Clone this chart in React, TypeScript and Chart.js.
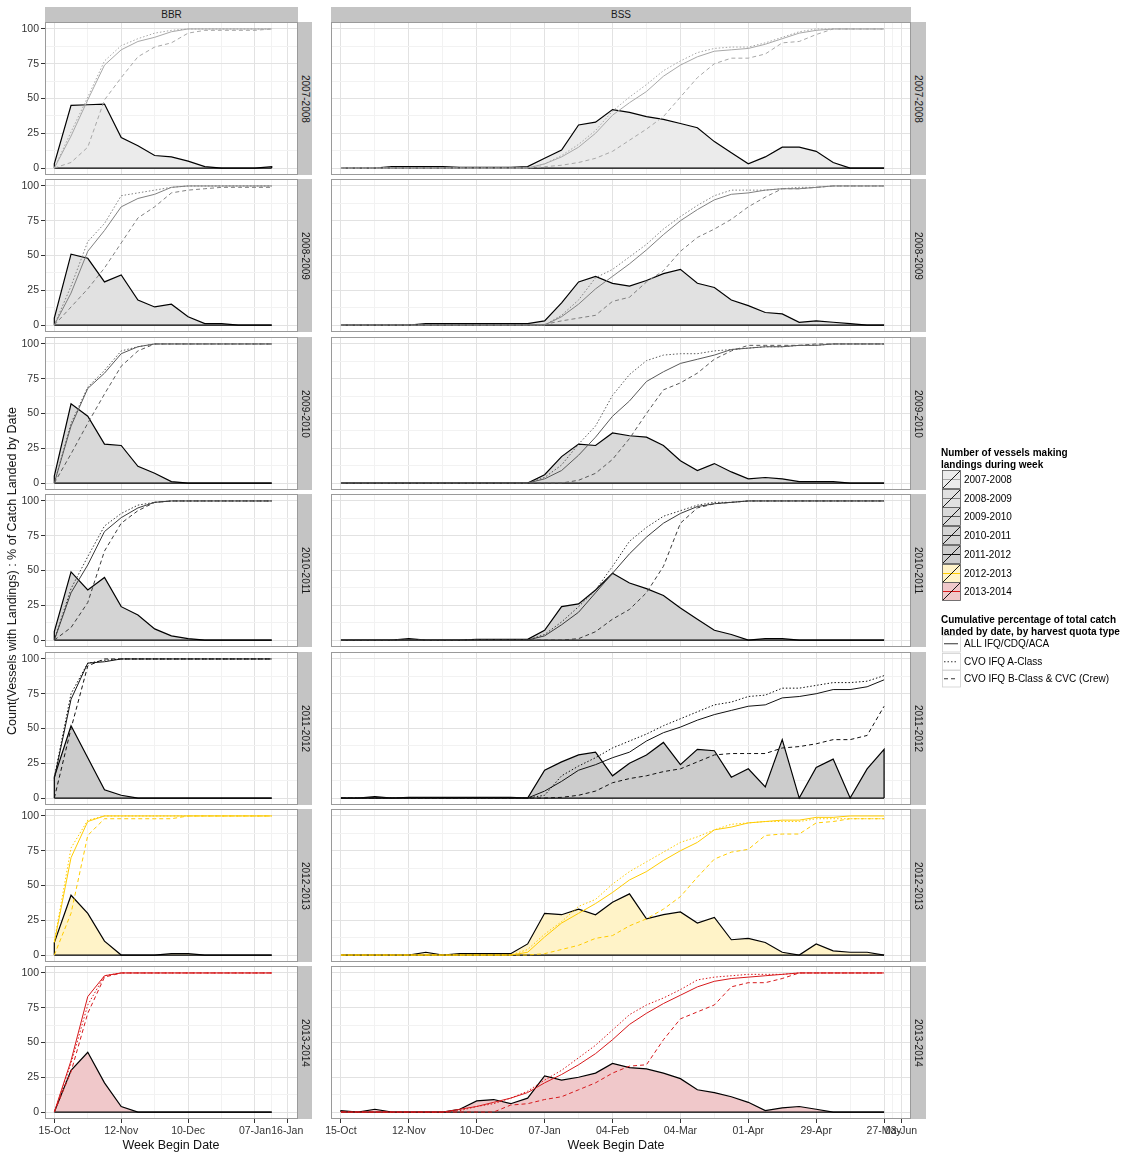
import React, { useEffect, useRef } from 'react';
import { Chart, registerables } from 'chart.js';

Chart.register(...registerables);

const FONT = "'Liberation Sans', Arial, Helvetica, sans-serif";
Chart.defaults.font.family = FONT;

// ---------------- data ----------------
const SEASONS = ['2007-2008', '2008-2009', '2009-2010', '2010-2011', '2011-2012', '2012-2013', '2013-2014'];
const REGIONS = ['BBR', 'BSS'];

// days since 15-Oct (week begin dates)
const BBR_DAYS = [0, 7, 14, 21, 28, 35, 42, 49, 56, 63, 70, 77, 84, 91];
const BSS_DAYS = [0, 7, 14, 21, 28, 35, 42, 49, 56, 63, 70, 77, 84, 91, 98, 105, 112, 119, 126, 133, 140, 147, 154, 161, 168, 175, 182, 189, 196, 203, 210, 217, 224];

const BBR_TICK_DAYS = [0, 28, 56, 84, 97.5];
const BBR_TICK_LABELS = ['15-Oct', '12-Nov', '10-Dec', '07-Jan', '16-Jan'];
const BSS_TICK_DAYS = [0, 28, 56, 84, 112, 140, 168, 196, 224, 231];
const BSS_TICK_LABELS = ['15-Oct', '12-Nov', '10-Dec', '07-Jan', '04-Feb', '04-Mar', '01-Apr', '29-Apr', '27-May', '03-Jun'];
const Y_TICKS = [0, 25, 50, 75, 100];

// Number of vessels making landings during week
const BBR_VESSELS = [
  [3, 45, 45.5, 46, 22, 16, 9, 8, 5, 1, 0, 0, 0, 1],
  [5, 51, 48, 31, 36, 18, 13, 15, 6, 1, 1, 0, 0, 0],
  [5, 57, 48, 28, 27, 12, 7, 1, 0, 0, 0, 0, 0, 0],
  [6, 49, 36, 45, 24, 18, 8, 3, 1, 0, 0, 0, 0, 0],
  [15, 52, 29, 6, 2, 0, 0, 0, 0, 0, 0, 0, 0, 0],
  [9, 43, 30, 10, 0, 0, 0, 1, 1, 0, 0, 0, 0, 0],
  [0, 30, 43, 21, 4, 0, 0, 0, 0, 0, 0, 0, 0, 0],
];
// Cumulative % ALL IFQ/CDQ/ACA
const BBR_ALL = [
  [0, 23, 49, 74, 85, 91, 94, 98, 100, 100, 100, 100, 100, 100],
  [0, 23, 53, 68, 85, 91, 94, 99, 100, 100, 100, 100, 100, 100],
  [0, 41, 68, 79, 93, 98, 100, 100, 100, 100, 100, 100, 100, 100],
  [0, 34, 54, 78, 88, 95, 99, 100, 100, 100, 100, 100, 100, 100],
  [14, 71, 97, 98, 100, 100, 100, 100, 100, 100, 100, 100, 100, 100],
  [9, 70, 96, 100, 100, 100, 100, 100, 100, 100, 100, 100, 100, 100],
  [0, 37, 83, 98, 100, 100, 100, 100, 100, 100, 100, 100, 100, 100],
];
// Cumulative % CVO IFQ A-Class
const BBR_ACLASS = [
  [0, 26, 51, 77, 88, 93, 97, 99, 100, 100, 100, 100, 100, 100],
  [0, 28, 60, 73, 93, 95, 97, 99, 100, 100, 100, 100, 100, 100],
  [0, 43, 69, 81, 95, 98, 100, 100, 100, 100, 100, 100, 100, 100],
  [0, 37, 60, 82, 91, 97, 99, 100, 100, 100, 100, 100, 100, 100],
  [15, 75, 97, 99, 100, 100, 100, 100, 100, 100, 100, 100, 100, 100],
  [10, 77, 97, 100, 100, 100, 100, 100, 100, 100, 100, 100, 100, 100],
  [0, 35, 77, 98, 100, 100, 100, 100, 100, 100, 100, 100, 100, 100],
];
// Cumulative % CVO IFQ B-Class & CVC (Crew)
const BBR_BCLASS = [
  [0, 4, 15, 49, 65, 80, 87, 90, 97, 99, 99, 99, 99, 100],
  [0, 13, 26, 41, 59, 77, 85, 95, 97, 98, 99, 99, 99, 99],
  [0, 21, 43, 64, 84, 95, 100, 100, 100, 100, 100, 100, 100, 100],
  [0, 9, 27, 64, 84, 93, 99, 100, 100, 100, 100, 100, 100, 100],
  [0, 50, 95, 100, 100, 100, 100, 100, 100, 100, 100, 100, 100, 100],
  [0, 30, 86, 98, 98, 98, 98, 98, 100, 100, 100, 100, 100, 100],
  [0, 29, 71, 97, 100, 100, 100, 100, 100, 100, 100, 100, 100, 100],
];

const BSS_VESSELS = [
  [0, 0, 0, 1, 1, 1, 1, 0.5, 0.5, 0.5, 0.5, 1, 7, 13, 31, 33, 42, 40, 37, 35, 32, 29, 19, 11, 3, 8, 15, 15, 12, 4, 0, 0, 0],
  [0, 0, 0, 0, 0, 1, 1, 1, 1, 1, 1, 1, 3, 16, 31, 35, 30, 28, 32, 37, 40, 30, 27, 18, 14, 9, 8, 2, 3, 2, 1, 0, 0],
  [0, 0, 0, 0, 0, 0, 0, 0, 0, 0, 0, 0, 6, 19, 28, 27, 36, 34, 33, 27, 16, 9, 14, 8, 3, 4, 3, 1, 1, 1, 0, 0, 0],
  [0, 0, 0, 0, 1, 0, 0, 0, 0.5, 0.5, 0.5, 0.5, 7, 24, 26, 36, 48, 41, 37, 32, 23, 15, 7, 4, 0, 1, 1, 0, 0, 0, 0, 0, 0],
  [0, 0, 1, 0, 0.5, 0.5, 0.5, 0.5, 0.5, 0.5, 0.5, 0, 20, 26, 31, 33, 16, 25, 31, 40, 24, 35, 34, 15, 21, 8, 42, 0, 22, 28, 0, 21, 35],
  [0, 0, 0, 0, 0, 2, 0, 1, 1, 1, 1, 8, 30, 29, 33, 29, 38, 44, 26, 29, 31, 23, 27, 11, 12, 9, 2, 0, 8, 3, 2, 2, 0],
  [1, 0, 2, 0, 0, 0, 0, 2, 8, 9, 6, 10, 26, 23, 25, 28, 35, 32, 31, 28, 24, 16, 14, 11, 7, 1, 3, 4, 2, 0, 0, 0, 0],
];
const BSS_ALL = [
  [0, 0, 0, 0, 0, 0, 0, 0, 0, 0, 0, 0, 3, 8, 15, 25, 38, 47, 55, 66, 74, 80, 84, 85, 86, 89, 93, 97, 99, 100, 100, 100, 100],
  [0, 0, 0, 0, 0, 0, 0, 0, 0, 0, 0, 0, 0, 6, 15, 26, 35, 44, 54, 65, 75, 83, 90, 94, 95, 97, 98, 98, 99, 100, 100, 100, 100],
  [0, 0, 0, 0, 0, 0, 0, 0, 0, 0, 0, 0, 3, 9, 20, 33, 48, 59, 73, 80, 86, 89, 92, 96, 97, 98, 98, 99, 99, 100, 100, 100, 100],
  [0, 0, 0, 0, 0, 0, 0, 0, 0, 0, 0, 0, 3, 11, 20, 34, 48, 62, 74, 84, 91, 96, 98, 99, 100, 100, 100, 100, 100, 100, 100, 100, 100],
  [0, 0, 0, 0, 0, 0, 0, 0, 0, 0, 0, 0, 5, 12, 20, 24, 29, 33, 41, 47, 51, 56, 60, 63, 66, 67, 72, 73, 75, 78, 78, 80, 85],
  [0, 0, 0, 0, 0, 0, 0, 0, 0, 0, 0, 2, 13, 23, 30, 37, 45, 54, 60, 68, 75, 81, 90, 92, 95, 96, 97, 97, 99, 99, 100, 100, 100],
  [0, 0, 0, 0, 0, 0, 0, 2, 4, 7, 10, 14, 21, 27, 34, 42, 52, 63, 71, 78, 84, 90, 94, 96, 97, 98, 99, 100, 100, 100, 100, 100, 100],
];
const BSS_ACLASS = [
  [0, 0, 0, 0, 0, 0, 0, 0, 0, 0, 0, 0, 3, 9, 17, 27, 41, 51, 60, 70, 77, 83, 86, 87, 87, 90, 94, 98, 100, 100, 100, 100, 100],
  [0, 0, 0, 0, 0, 0, 0, 0, 0, 0, 0, 0, 0, 7, 18, 34, 40, 49, 58, 69, 78, 86, 93, 97, 97, 97, 98, 99, 99, 100, 100, 100, 100],
  [0, 0, 0, 0, 0, 0, 0, 0, 0, 0, 0, 0, 4, 13, 28, 41, 63, 78, 88, 92, 93, 93, 95, 96, 97, 98, 98, 99, 99, 100, 100, 100, 100],
  [0, 0, 0, 0, 0, 0, 0, 0, 0, 0, 0, 0, 4, 13, 24, 36, 53, 71, 81, 89, 93, 97, 99, 99, 100, 100, 100, 100, 100, 100, 100, 100, 100],
  [0, 0, 0, 0, 0, 0, 0, 0, 0, 0, 0, 0, 2, 16, 23, 29, 36, 41, 46, 52, 57, 62, 67, 69, 73, 74, 79, 79, 81, 83, 83, 84, 88],
  [0, 0, 0, 0, 0, 0, 0, 0, 0, 0, 0, 4, 15, 24, 35, 40, 51, 60, 67, 74, 81, 85, 90, 94, 95, 96, 96, 96, 98, 98, 98, 98, 98],
  [0, 0, 0, 0, 0, 0, 0, 1, 4, 6, 10, 15, 23, 30, 39, 48, 59, 70, 77, 82, 88, 95, 97, 98, 99, 99, 99, 100, 100, 100, 100, 100, 100],
];
const BSS_BCLASS = [
  [0, 0, 0, 0, 0, 0, 0, 0, 0, 0, 0, 0, 1, 2, 4, 7, 12, 20, 28, 37, 51, 65, 75, 79, 79, 82, 90, 91, 96, 100, 100, 100, 100],
  [0, 0, 0, 0, 0, 0, 0, 0, 0, 0, 0, 0, 0.5, 3, 5, 7, 17, 20, 31, 39, 53, 63, 69, 76, 85, 92, 98, 98, 99, 100, 100, 100, 100],
  [0, 0, 0, 0, 0, 0, 0, 0, 0, 0, 0, 0, 0, 0, 2, 7, 17, 32, 50, 67, 72, 79, 89, 95, 99, 99, 99, 99, 100, 100, 100, 100, 100],
  [0, 0, 0, 0, 0, 0, 0, 0, 0, 0, 0, 0, 0, 0, 1, 6, 15, 22, 34, 53, 84, 95, 98, 99, 100, 100, 100, 100, 100, 100, 100, 100, 100],
  [0, 0, 0, 0, 0, 0, 0, 0, 0, 0, 0, 0, 0, 0.5, 2, 5, 11, 14, 16, 19, 21, 26, 31, 32, 32, 32, 36, 37, 39, 42, 42, 45, 66],
  [0, 0, 0, 0, 0, 0, 0, 0, 0, 0, 0, 0, 1, 4, 7, 12, 14, 21, 26, 33, 42, 56, 69, 74, 76, 86, 87, 87, 95, 96, 98, 98, 98],
  [0, 0, 0, 0, 0, 0, 0, 0, 0, 0, 5, 6, 9, 11, 16, 21, 28, 33, 34, 52, 67, 72, 77, 90, 93, 93, 96, 100, 100, 100, 100, 100, 100],
];

const QUOTA_LABELS = ['ALL IFQ/CDQ/ACA', 'CVO IFQ A-Class', 'CVO IFQ B-Class & CVC (Crew)'];

// ---------------- styles ----------------
const FILL_COLORS = ['#ebebeb', '#e1e1e1', '#d9d9d9', '#d4d4d4', '#cccccc', '#fff3c8', '#f0c8ca'];
const LINE_COLORS = ['#a8a8a8', '#808080', '#595959', '#3a3a3a', '#111111', '#ffcc00', '#d7191c'];
const DOTTED = [1.5, 2];
const DASHED = [4, 3];
const GRID_MAJOR = '#e2e2e2';
const GRID_MINOR = '#f2f2f2';
const TEXT = '#333333';

const PANEL_TOPS = [22, 179, 337, 494, 652, 809, 966];
const PANEL_H = 153;
const GEOM: any = {
  BBR: { plotLeft: 45, plotRight: 298, canvasLeft: 0, padLeft: 0, padRight: 32, yWidth: 45, xMin: -3.9, xMax: 102, titleCenter: 171 },
  BSS: { plotLeft: 331, plotRight: 911, canvasLeft: 311, padLeft: 20, padRight: 40, yWidth: 0, xMin: -4.1, xMax: 235.1, titleCenter: 616 },
};
const STRIP_BG = '#c4c4c4';

const borderPlugin = {
  id: 'panelBorder',
  afterDraw(chart: any) {
    const { ctx, chartArea: a } = chart;
    ctx.save();
    ctx.strokeStyle = '#9a9a9a';
    ctx.lineWidth = 1;
    const l = Math.round(a.left) + 0.5;
    const t = Math.round(a.top) + 0.5;
    ctx.strokeRect(l, t, Math.round(a.right) - Math.round(a.left) - 1, Math.round(a.bottom) - Math.round(a.top) - 1);
    ctx.restore();
  },
};

function withMinors(majors: number[], min: number, max: number) {
  const out: number[] = [];
  for (let i = 0; i < majors.length; i++) {
    out.push(majors[i]);
    if (i < majors.length - 1) out.push((majors[i] + majors[i + 1]) / 2);
  }
  return out.filter((v) => v >= min && v <= max);
}

function Panel({ region, row }: { region: string; row: number }) {
  const ref = useRef<HTMLCanvasElement | null>(null);
  const g = GEOM[region];
  const isLeft = region === 'BBR';
  const isBottom = row === SEASONS.length - 1;
  const top = PANEL_TOPS[row] - 10;
  const height = isBottom ? 1153 - top : PANEL_H + 20;
  const width = g.plotRight + g.padRight - g.canvasLeft;

  useEffect(() => {
    const days = isLeft ? BBR_DAYS : BSS_DAYS;
    const vessels = (isLeft ? BBR_VESSELS : BSS_VESSELS)[row];
    const all = (isLeft ? BBR_ALL : BSS_ALL)[row];
    const aC = (isLeft ? BBR_ACLASS : BSS_ACLASS)[row];
    const bC = (isLeft ? BBR_BCLASS : BSS_BCLASS)[row];
    const tickDays = isLeft ? BBR_TICK_DAYS : BSS_TICK_DAYS;
    const tickLabels = isLeft ? BBR_TICK_LABELS : BSS_TICK_LABELS;
    const xGrid = withMinors(tickDays, g.xMin, g.xMax);
    const yGrid = withMinors(Y_TICKS, -5, 105);
    const first = days[0];
    const last = days[days.length - 1];
    const pts = (arr: number[]) => arr.map((y, i) => ({ x: days[i], y }));
    const lc = LINE_COLORS[row];
    const isMajorX = (v: number) => tickDays.indexOf(v) >= 0;
    const isMajorY = (v: number) => Y_TICKS.indexOf(v) >= 0;
    const xAxisH = height - 10 - PANEL_H;

    const chart = new Chart(ref.current as HTMLCanvasElement, {
      type: 'line',
      data: {
        datasets: [
          { data: pts(all), borderColor: lc, borderWidth: 1, pointRadius: 0, fill: false, tension: 0, order: 1 } as any,
          { data: pts(aC), borderColor: lc, borderWidth: 1, borderDash: DOTTED, pointRadius: 0, fill: false, tension: 0, order: 2 },
          { data: pts(bC), borderColor: lc, borderWidth: 1, borderDash: DASHED, pointRadius: 0, fill: false, tension: 0, order: 3 },
          { data: [{ x: first, y: 0 }, { x: last, y: 0 }], borderColor: '#000', borderWidth: 1.2, pointRadius: 0, fill: false, order: 4 },
          {
            data: [{ x: first, y: 0 }, ...pts(vessels), { x: last, y: 0 }],
            borderColor: '#000',
            borderWidth: 1.2,
            backgroundColor: FILL_COLORS[row],
            fill: 'origin',
            pointRadius: 0,
            tension: 0,
            order: 5,
          },
        ],
      },
      options: {
        animation: false,
        responsive: false,
        devicePixelRatio: 1,
        events: [],
        layout: { padding: { left: g.padLeft, right: g.padRight, top: 10, bottom: isBottom ? 0 : 10 } },
        plugins: { legend: { display: false }, tooltip: { enabled: false } },
        scales: {
          x: {
            type: 'linear',
            min: g.xMin,
            max: g.xMax,
            afterBuildTicks: (s: any) => {
              s.ticks = xGrid.map((v) => ({ value: v }));
            },
            afterFit: (s: any) => {
              s.height = isBottom ? xAxisH : 0;
            },
            border: { display: false },
            grid: {
              color: (c: any) => (c.tick && isMajorX(c.tick.value) ? GRID_MAJOR : GRID_MINOR),
              lineWidth: 1,
              drawTicks: isBottom,
              tickLength: 4,
              tickColor: (c: any) => (c.tick && isMajorX(c.tick.value) ? TEXT : 'rgba(0,0,0,0)'),
            },
            ticks: {
              display: isBottom,
              autoSkip: false,
              maxRotation: 0,
              minRotation: 0,
              padding: 2,
              color: TEXT,
              font: { size: 10.5, family: FONT },
              callback: (v: any) => {
                const i = tickDays.indexOf(Number(v));
                return i >= 0 ? tickLabels[i] : '';
              },
            },
          },
          y: {
            type: 'linear',
            min: -5,
            max: 105,
            afterBuildTicks: (s: any) => {
              s.ticks = yGrid.map((v) => ({ value: v }));
            },
            afterFit: (s: any) => {
              s.width = g.yWidth;
            },
            border: { display: false },
            grid: {
              color: (c: any) => (c.tick && isMajorY(c.tick.value) ? GRID_MAJOR : GRID_MINOR),
              lineWidth: 1,
              drawTicks: isLeft,
              tickLength: 4,
              tickColor: (c: any) => (c.tick && isMajorY(c.tick.value) ? TEXT : 'rgba(0,0,0,0)'),
            },
            ticks: {
              display: isLeft,
              autoSkip: false,
              padding: 2,
              color: TEXT,
              font: { size: 10.5, family: FONT },
              callback: (v: any) => (isMajorY(Number(v)) ? String(v) : ''),
            },
          },
        },
      },
      plugins: [borderPlugin],
    } as any);
    return () => chart.destroy();
  }, []);

  return (
    <canvas
      ref={ref}
      width={width}
      height={height}
      style={{ position: 'absolute', left: g.canvasLeft, top, width, height }}
    />
  );
}

function FillKey({ fill, line }: { fill: string; line: string }) {
  return (
    <svg width={19} height={19} style={{ display: 'block' }}>
      <rect x={0.5} y={0.5} width={18} height={18} fill={fill} stroke="#555" strokeWidth={0.8} />
      <line x1={1} y1={9.5} x2={18} y2={9.5} stroke={line} strokeWidth={1} />
      <line x1={1} y1={18} x2={18} y2={1} stroke="#000" strokeWidth={0.9} />
    </svg>
  );
}

function LineKey({ dash }: { dash: string | undefined }) {
  return (
    <svg width={19} height={17.5} style={{ display: 'block' }}>
      <rect x={0.5} y={0.5} width={18} height={16.5} fill="#fff" stroke="#d0d0d0" strokeWidth={0.8} />
      <line x1={2} y1={8.75} x2={16} y2={8.75} stroke="#333" strokeWidth={1} strokeDasharray={dash} />
    </svg>
  );
}

export default function App() {
  const strip: React.CSSProperties = {
    position: 'absolute',
    background: STRIP_BG,
    color: '#1a1a1a',
    fontFamily: FONT,
    fontSize: 10,
    display: 'flex',
    alignItems: 'center',
    justifyContent: 'center',
    zIndex: 2,
  };
  const legendText: React.CSSProperties = { fontFamily: FONT, fontSize: 10, color: '#000', whiteSpace: 'nowrap' };
  const dashes = [undefined, '1.5 2', '4 3'];

  return (
    <div style={{ position: 'absolute', left: 0, top: 0, width: 1126, height: 1153, background: '#fff', overflow: 'hidden' }}>
      {REGIONS.map((r) =>
        SEASONS.map((s, i) => <Panel key={r + s} region={r} row={i} />)
      )}
      {REGIONS.map((r) => (
        <div
          key={'top' + r}
          style={{ ...strip, left: GEOM[r].plotLeft, top: 7, width: GEOM[r].plotRight - GEOM[r].plotLeft, height: 15 }}
        >
          {r}
        </div>
      ))}
      {REGIONS.map((r) =>
        SEASONS.map((s, i) => (
          <div
            key={'side' + r + s}
            style={{
              ...strip,
              left: GEOM[r].plotRight,
              top: PANEL_TOPS[i],
              width: r === 'BBR' ? 14 : 15,
              height: PANEL_H,
              writingMode: 'vertical-rl',
            }}
          >
            {s}
          </div>
        ))
      )}
      {REGIONS.map((r) => (
        <div
          key={'xt' + r}
          style={{
            position: 'absolute',
            left: GEOM[r].titleCenter,
            top: 1145,
            transform: 'translate(-50%, -50%)',
            fontFamily: FONT,
            fontSize: 12.5,
            color: '#111',
            whiteSpace: 'nowrap',
          }}
        >
          Week Begin Date
        </div>
      ))}
      <div
        style={{
          position: 'absolute',
          left: 12,
          top: 571,
          transform: 'translate(-50%, -50%) rotate(-90deg)',
          fontFamily: FONT,
          fontSize: 12.5,
          color: '#111',
          whiteSpace: 'nowrap',
        }}
      >
        Count(Vessels with Landings) : % of Catch Landed by Date
      </div>

      <div style={{ position: 'absolute', left: 941, top: 447, ...legendText, fontWeight: 'bold', lineHeight: '11.5px' }}>
        Number of vessels making
        <br />
        landings during week
      </div>
      {SEASONS.map((s, i) => (
        <div key={'lg' + s} style={{ position: 'absolute', left: 942, top: 470 + i * 18.7, height: 19, display: 'flex', alignItems: 'center' }}>
          <FillKey fill={FILL_COLORS[i]} line={LINE_COLORS[i]} />
          <span style={{ ...legendText, marginLeft: 3 }}>{s}</span>
        </div>
      ))}

      <div style={{ position: 'absolute', left: 941, top: 614, ...legendText, fontWeight: 'bold', lineHeight: '11.5px' }}>
        Cumulative percentage of total catch
        <br />
        landed by date, by harvest quota type
      </div>
      {QUOTA_LABELS.map((q, i) => (
        <div key={'lq' + q} style={{ position: 'absolute', left: 942, top: 635 + i * 17.5, height: 17.5, display: 'flex', alignItems: 'center' }}>
          <LineKey dash={dashes[i]} />
          <span style={{ ...legendText, marginLeft: 3 }}>{q}</span>
        </div>
      ))}
    </div>
  );
}
